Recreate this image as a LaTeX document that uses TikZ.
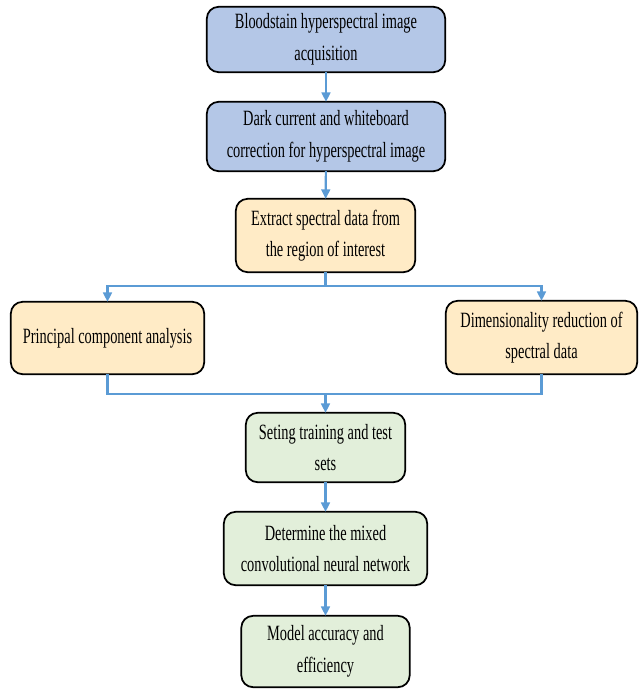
\documentclass[tikz,border=0pt]{standalone}
\usepackage{fontspec}
\setmainfont{Liberation Serif}[FakeStretch=0.66]
\usetikzlibrary{positioning,arrows.meta}

\definecolor{stepblue}{HTML}{B4C7E7}
\definecolor{stepyellow}{HTML}{FFEBC6}
\definecolor{stepgreen}{HTML}{E2EFDA}
\definecolor{flowline}{HTML}{5B9BD5}

\tikzset{
    stepbox/.style={draw=black, line width=1.5pt, rounded corners=10pt, align=center,
        font=\fontsize{18.6pt}{27pt}\selectfont, inner sep=2pt, outer sep=0pt},
    flow/.style={draw=flowline, line width=1.8pt},
    flowarrow/.style={flow, -{Triangle[length=8pt,width=7.5pt]}},
}

\begin{document}
\begin{tikzpicture}[]
    \useasboundingbox (0,0) rectangle (19.14,-20.73);

    \node [stepbox, fill=stepblue, minimum width=7.15cm, minimum height=1.96cm] (acq) at (9.78,-1.185)
        {Bloodstain hyperspectral image\\acquisition};
    \node [stepbox, fill=stepblue, minimum width=7.15cm, minimum height=2.08cm, below=0.89cm of acq] (corr)
        {Dark current and whiteboard\\correction for hyperspectral image};
    \node [stepbox, fill=stepyellow, minimum width=5.38cm, minimum height=2.2cm, below=0.83cm of corr, xshift=-0.015cm] (roi)
        {Extract spectral data from\\the region of interest};

    \node [stepbox, fill=stepyellow, minimum width=5.8cm, minimum height=2.17cm, below=0.89cm of roi, xshift=-6.54cm] (pca)
        {Principal component analysis};
    \node [stepbox, fill=stepyellow, minimum width=5.74cm, minimum height=2.2cm, below=0.86cm of roi, xshift=6.48cm] (dimred)
        {Dimensionality reduction of\\spectral data};

    \node [stepbox, fill=stepgreen, minimum width=4.78cm, minimum height=2.08cm, below=4.22cm of roi] (sets)
        {Seting training and test\\sets};
    \node [stepbox, fill=stepgreen, minimum width=6.1cm, minimum height=2.2cm, below=0.89cm of sets] (cnn)
        {Determine the mixed\\convolutional neural network};
    \node [stepbox, fill=stepgreen, minimum width=5.05cm, minimum height=2.14cm, below=0.92cm of cnn] (acc)
        {Model accuracy and\\efficiency};

    \coordinate (split) at ([yshift=-0.42cm]roi.south);
    \coordinate (merge) at ([yshift=0.57cm]sets.north);

    \draw [flowarrow] (acq) -- (corr);
    \draw [flowarrow] (corr) -- (roi);
    \draw [flow] (roi) -- (split);
    \draw [flowarrow] (split) -| (pca);
    \draw [flowarrow] (split) -| (dimred);
    \draw [flow] (pca) |- (merge);
    \draw [flow] (dimred) |- (merge);
    \draw [flowarrow] (merge) -- (sets);
    \draw [flowarrow] (sets) -- (cnn);
    \draw [flowarrow] (cnn) -- (acc);
\end{tikzpicture}
\end{document}
